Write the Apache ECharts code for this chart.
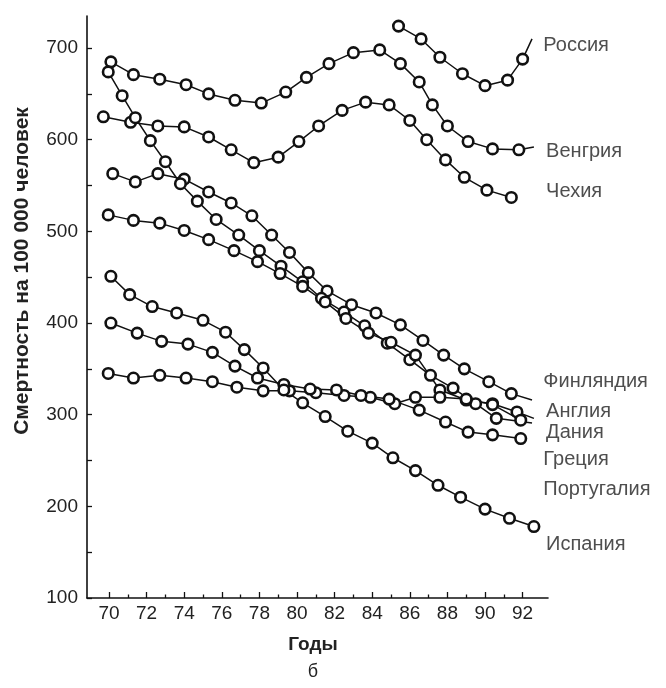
<!DOCTYPE html>
<html><head><meta charset="utf-8">
<script src="https://cdn.jsdelivr.net/npm/echarts@6/dist/echarts.min.js"></script>
<style>html,body{margin:0;padding:0;background:#fff}#c{width:666px;height:688px}</style>
</head><body><div id="c"></div>
<script>
// Year axis ticks (labelled even years, short ticks on odd years)
const yearTicks = [70,72,74,76,78,80,82,84,86,88,90,92];
const oddYears = [71,73,75,77,79,81,83,85,87,89,91];
// Mortality axis ticks
const valueLabels = [100,200,300,400,500,600,700];
const valueTicks = [100,150,200,250,300,350,400,450,500,550,600,650,700];

// Each series: [year, deaths per 100 000]; the *Lead pairs end the leader line to a name
const russia = [[85.4,724],[86.6,710],[87.6,690],[88.8,672],[90.0,659],[91.2,665],[92.0,688]];
const russiaLead = [92.5,710];
const hungary = [[70.1,685],[71.3,671],[72.7,666],[74.1,660],[75.3,650],[76.7,643],[78.1,640],[79.4,652],[80.5,668],[81.7,683],[83.0,695],[84.4,698],[85.5,683],[86.5,663],[87.2,638],[88.0,615],[89.1,598],[90.4,590],[91.8,589]];
const hungaryLead = [92.6,592];
const czech = [[69.7,625],[71.15,619],[72.6,615],[74.0,614],[75.3,603],[76.5,589],[77.7,575],[79.0,581],[80.1,598],[81.15,615],[82.4,632],[83.65,641],[84.9,638],[86.0,621],[86.9,600],[87.9,578],[88.9,559],[90.1,545],[91.4,537]];
const finland = [[70.2,563],[71.4,554],[72.6,563],[74.0,557],[75.3,543],[76.5,531],[77.6,517],[78.65,496],[79.6,477],[80.6,455],[81.6,435],[82.9,420],[84.2,411],[85.5,398],[86.7,381],[87.8,365],[88.9,350],[90.2,336],[91.4,323]];
const finlandLead = [92.5,316];
const england = [[69.96,674],[70.7,648],[71.4,624],[72.2,599],[73.0,576],[73.8,552],[74.7,533],[75.7,513],[76.9,496],[78.0,479],[79.15,462],[80.3,445],[81.3,427],[82.5,412],[83.6,397],[84.8,378],[86.0,360],[87.1,343],[88.3,329],[89.5,312],[90.6,296]];
const englandLead = [92.5,291];
const denmark = [[69.96,518],[71.3,512],[72.7,509],[74.0,501],[75.3,491],[76.65,479],[77.9,467],[79.1,454],[80.3,440],[81.5,423],[82.6,405],[83.8,389],[85.0,379],[86.3,365],[87.6,327],[89.0,316],[90.4,312],[91.7,303]];
const denmarkLead = [92.6,296];
const greece = [[69.96,345],[71.3,340],[72.7,343],[74.1,340],[75.5,336],[76.8,330],[78.2,326],[79.6,326],[81.0,324],[82.5,321],[83.9,319],[85.2,312],[86.3,319],[87.6,319],[89.0,317],[90.4,311],[91.9,294]];
const portugal = [[70.1,400],[71.5,389],[72.8,380],[74.2,377],[75.5,368],[76.7,353],[77.9,340],[79.3,333],[80.7,328],[82.1,327],[83.4,321],[84.9,317],[86.5,305],[87.9,292],[89.1,281],[90.4,278],[91.9,274]];
const spain = [[70.1,451],[71.1,431],[72.3,418],[73.6,411],[75.0,403],[76.2,390],[77.2,371],[78.2,351],[79.3,327],[80.3,313],[81.5,298],[82.7,282],[84.0,269],[85.1,253],[86.3,239],[87.5,223],[88.7,210],[90.0,197],[91.3,187],[92.6,178]];

// Country names and the point each name is anchored at
const countryNames = ['Россия','Венгрия','Чехия','Финляндия','Англия','Дания','Греция','Португалия','Испания'];
const nameAnchors = [[93.1,703],[93.25,587],[93.25,543],[93.1,336],[93.25,304],[93.25,281],[93.1,251],[93.1,218],[93.25,158]];

const FONT = '"Liberation Sans", Arial, sans-serif';
const INK = '#111';

function withLead(points, lead) {
  const d = points.map(p => p.slice());
  if (lead) d.push({ value: lead, symbol: 'none' });
  return d;
}
function lineSeries(name, points, lead) {
  return {
    name, type: 'line', data: withLead(points, lead),
    symbol: 'circle', symbolSize: 10.5, showSymbol: true,
    lineStyle: { color: INK, width: 1.5 },
    itemStyle: { color: '#fff', borderColor: INK, borderWidth: 2.6 },
    emphasis: { disabled: true }, animation: false, z: 3
  };
}

const chart = echarts.init(document.getElementById('c'), null, { renderer: 'canvas' });
chart.setOption({
  backgroundColor: '#fff',
  animation: false,
  grid: { left: 87, top: 16, right: 118, bottom: 90, containLabel: false },
  xAxis: [{
    type: 'value', min: 68.83, max: 93.35, position: 'bottom',
    axisLine: { show: true, lineStyle: { color: INK, width: 1.6 } },
    axisTick: { show: true, inside: true, length: 6, lineStyle: { color: INK, width: 1.3 }, customValues: yearTicks },
    axisLabel: { show: true, customValues: yearTicks, color: '#222', fontFamily: FONT, fontSize: 19, margin: 6 },
    splitLine: { show: false }
  }, {
    type: 'value', min: 68.83, max: 93.35, position: 'bottom', offset: 0,
    axisLine: { show: false },
    axisTick: { show: true, inside: true, length: 3.5, lineStyle: { color: INK, width: 1.3 }, customValues: oddYears },
    axisLabel: { show: false },
    splitLine: { show: false }
  }],
  yAxis: {
    type: 'value', min: 100, max: 735,
    axisLine: { show: true, lineStyle: { color: INK, width: 1.6 } },
    axisTick: { show: true, inside: true, length: 5, lineStyle: { color: INK, width: 1.3 }, customValues: valueTicks },
    axisLabel: { show: true, customValues: valueLabels, color: '#222', fontFamily: FONT, fontSize: 19, margin: 9 },
    splitLine: { show: false }
  },
  graphic: [
    { type: 'text', x: 22, y: 271, rotation: Math.PI / 2,
      style: { text: 'Смертность на 100 000 человек', font: 'bold 21px ' + FONT, fill: '#222', align: 'center', verticalAlign: 'middle' } },
    { type: 'text', x: 313, y: 645,
      style: { text: 'Годы', font: 'bold 19px ' + FONT, fill: '#222', align: 'center', verticalAlign: 'middle' } },
    { type: 'text', x: 313, y: 672,
      style: { text: 'б', font: '18px ' + FONT, fill: '#222', align: 'center', verticalAlign: 'middle' } }
  ],
  series: [
    lineSeries('Россия', russia, russiaLead),
    lineSeries('Венгрия', hungary, hungaryLead),
    lineSeries('Чехия', czech),
    lineSeries('Финляндия', finland, finlandLead),
    lineSeries('Англия', england, englandLead),
    lineSeries('Дания', denmark, denmarkLead),
    lineSeries('Греция', greece),
    lineSeries('Португалия', portugal),
    lineSeries('Испания', spain),
    {
      name: 'names', type: 'scatter', symbolSize: 0, silent: true, z: 5,
      data: nameAnchors.map((p, i) => ({ value: p, name: countryNames[i] })),
      label: { show: true, position: 'right', distance: 0, formatter: p => p.name,
               color: '#222', fontFamily: FONT, fontSize: 20 }
    }
  ]
});
</script>
</body></html>
